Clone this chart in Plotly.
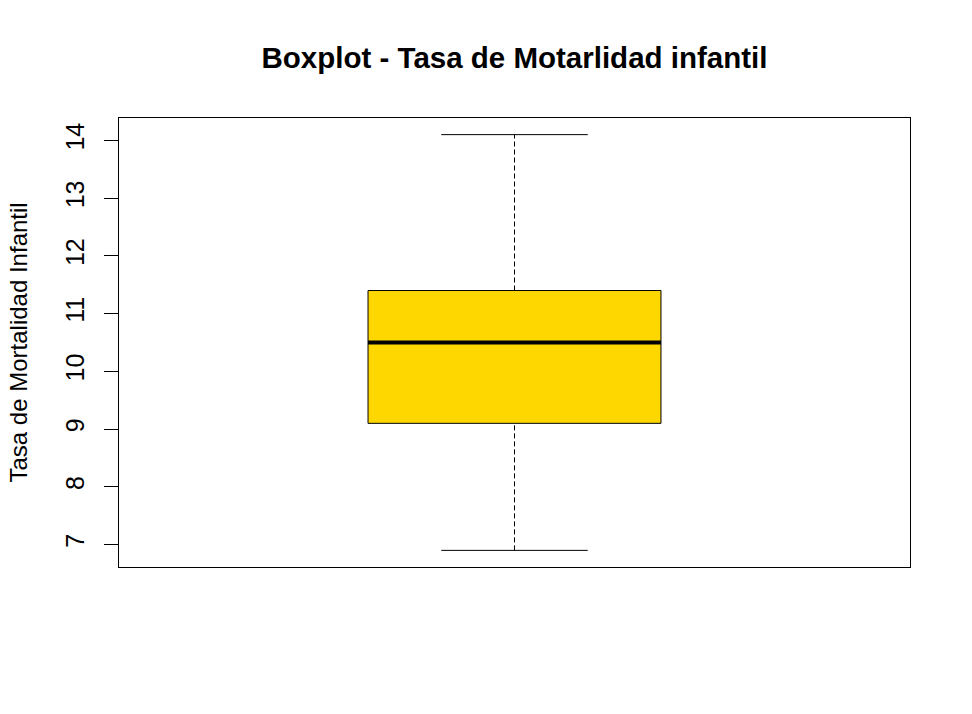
import plotly.graph_objects as go

# Summary statistics
category = ["Tasa de Mortalidad Infantil"]
lower_whisker = [6.9]
q1 = [9.1]
median = [10.5]
q3 = [11.4]
upper_whisker = [14.1]
y_ticks = [7, 8, 9, 10, 11, 12, 13, 14]

title_text = "Boxplot - Tasa de Motarlidad infantil"
ylabel_text = "Tasa de Mortalidad Infantil"

BOX_W = 0.4
STAPLE_W = 0.2
FONT = "Liberation Sans, Arial, sans-serif"

fig = go.Figure()
fig.add_trace(go.Box(
    x=[0], q1=q1, median=median, q3=q3,
    lowerfence=lower_whisker, upperfence=upper_whisker,
    width=BOX_W, fillcolor="#FFD700",
    line=dict(color="rgba(0,0,0,0)", width=0),
    whiskerwidth=0.5, boxpoints=False, hoverinfo="skip",
    name=category[0], showlegend=False,
))

shapes = []
for i in range(len(category)):
    cx = 0
    # whiskers (dashed)
    shapes.append(dict(type="line", xref="x", yref="y", x0=cx, x1=cx,
                       y0=q3[i], y1=upper_whisker[i],
                       line=dict(color="black", width=1, dash="5px,3px")))
    shapes.append(dict(type="line", xref="x", yref="y", x0=cx, x1=cx,
                       y0=lower_whisker[i], y1=q1[i],
                       line=dict(color="black", width=1, dash="5px,3px")))
    # staples
    for v in (upper_whisker[i], lower_whisker[i]):
        shapes.append(dict(type="line", xref="x", yref="y",
                           x0=cx - STAPLE_W / 2, x1=cx + STAPLE_W / 2, y0=v, y1=v,
                           line=dict(color="black", width=1)))
    # box outline
    shapes.append(dict(type="rect", xref="x", yref="y",
                       x0=cx - BOX_W / 2, x1=cx + BOX_W / 2, y0=q1[i], y1=q3[i],
                       line=dict(color="black", width=1)))
    # median
    shapes.append(dict(type="line", xref="x", yref="y",
                       x0=cx - BOX_W / 2, x1=cx + BOX_W / 2, y0=median[i], y1=median[i],
                       line=dict(color="black", width=4)))

ymin = min(lower_whisker)
ymax = max(upper_whisker)
pad = (ymax - ymin) * 0.04

fig.update_layout(
    width=972, height=714,
    margin=dict(l=119, r=62, t=118, b=147),
    plot_bgcolor="white", paper_bgcolor="white",
    shapes=shapes,
    font=dict(family=FONT, color="black"),
    title=dict(text="<b>" + title_text + "</b>", x=0.5, xref="paper", xanchor="center",
               y=1 - 68 / 714, yref="container", yanchor="bottom",
               font=dict(size=29.5, family=FONT, color="black")),
    xaxis=dict(range=[-0.54, 0.54], showticklabels=False, ticks="",
               showgrid=False, zeroline=False, showline=True, mirror=True,
               linecolor="black", linewidth=1, fixedrange=True),
    yaxis=dict(range=[ymin - pad, ymax + pad], tickvals=y_ticks,
               ticktext=[str(t) for t in y_ticks], tickangle=-90,
               ticks="outside", ticklen=14, tickwidth=1, tickcolor="black",
               ticklabelstandoff=10,
               tickfont=dict(size=25, family=FONT, color="black"),
               showgrid=False, zeroline=False, showline=True, mirror=True,
               linecolor="black", linewidth=1),
    annotations=[dict(text=ylabel_text, xref="paper", yref="paper", x=0, y=0.5,
                      xanchor="center", yanchor="middle", textangle=-90,
                      xshift=-101, showarrow=False,
                      font=dict(size=24, family=FONT, color="black"))],
)

fig.write_html("out.html")
